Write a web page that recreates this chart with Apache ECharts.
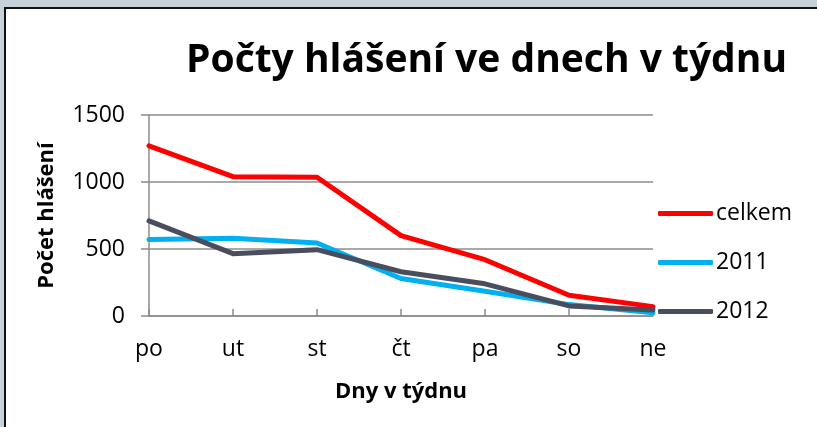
<!DOCTYPE html>
<html>
<head>
<meta charset="utf-8">
<script src="https://cdn.jsdelivr.net/npm/echarts@6/dist/echarts.min.js"></script>
<style>
  html, body {
    margin: 0;
    padding: 0;
    width: 817px;
    height: 427px;
    overflow: hidden;
    background: #c7d1d8;
  }
  .frame {
    position: absolute;
    left: 4px;
    top: 7px;
    right: -4px;
    bottom: -4px;
    background: #fff;
    border-left: 2px solid #111;
    border-top: 2px solid #111;
  }
  #chart {
    position: absolute;
    left: 0;
    top: 0;
    width: 817px;
    height: 427px;
  }
</style>
</head>
<body>
<div class="frame"></div>
<div id="chart"></div>
<script>
// dny v týdnu
const days = ['po', 'ut', 'st', 'čt', 'pa', 'so', 'ne']

// počty hlášení
const celkem = [1270, 1040, 1035, 600, 420, 155, 70]
const rok2011 = [570, 580, 545, 280, 185, 85, 25]
const rok2012 = [710, 465, 495, 330, 240, 75, 45]

const yTicks = [0, 500, 1000, 1500]

const font = 'Open Sans'

const chart = echarts.init(document.getElementById('chart'), null, { renderer: 'canvas' })

const makeLine = (name, data, color) => ({
  name: name,
  type: 'line',
  data: data,
  symbol: 'none',
  smooth: false,
  lineStyle: { width: 5, color: color, cap: 'round', join: 'round' },
  itemStyle: { color: color },
  z: 3
})

chart.setOption({
  backgroundColor: 'transparent',
  animation: false,
  textStyle: { fontFamily: font },
  title: {
    text: 'Počty hlášení ve dnech v týdnu',
    left: 181,
    top: 36,
    textStyle: {
      fontFamily: font,
      fontSize: 39,
      fontWeight: 'bold',
      color: '#000'
    }
  },
  legend: {
    orient: 'vertical',
    left: 658,
    top: 202,
    padding: 0,
    icon: 'roundRect',
    itemWidth: 55,
    itemHeight: 5,
    itemGap: 26,
    textStyle: { fontFamily: font, fontSize: 23, color: '#000', padding: [0, 0, 0, -2] },
    data: ['celkem', '2011', '2012']
  },
  grid: {
    left: 149,
    right: 164,
    top: 115,
    bottom: 111,
    containLabel: false
  },
  xAxis: {
    type: 'category',
    data: days,
    boundaryGap: false,
    name: 'Dny v týdnu',
    nameLocation: 'middle',
    nameGap: 65,
    nameTextStyle: { fontFamily: font, fontSize: 22, fontWeight: 'bold', color: '#000' },
    axisLine: { lineStyle: { color: '#8c8c8c', width: 1.5 } },
    axisTick: { inside: true, length: 7, lineStyle: { color: '#8c8c8c', width: 1.5 } },
    axisLabel: { fontFamily: font, fontSize: 23, color: '#000', margin: 22 },
    splitLine: { show: false }
  },
  yAxis: {
    type: 'value',
    min: yTicks[0],
    max: yTicks[yTicks.length - 1],
    interval: 500,
    name: 'Počet hlášení',
    nameLocation: 'middle',
    nameGap: 91,
    nameTextStyle: { fontFamily: font, fontSize: 22, fontWeight: 'bold', color: '#000' },
    axisLine: { show: true, lineStyle: { color: '#8c8c8c', width: 1.5 } },
    axisTick: { show: true, length: 8, lineStyle: { color: '#8c8c8c', width: 1.5 } },
    axisLabel: {
      fontFamily: font,
      fontSize: 23,
      color: '#000',
      margin: 24,
      formatter: (v) => String(v)
    },
    splitLine: { lineStyle: { color: '#8c8c8c', width: 1.5 } }
  },
  series: [
    makeLine('celkem', celkem, '#ff0000'),
    makeLine('2011', rok2011, '#00b0f0'),
    makeLine('2012', rok2012, '#4a4d5e')
  ]
})
</script>
</body>
</html>
